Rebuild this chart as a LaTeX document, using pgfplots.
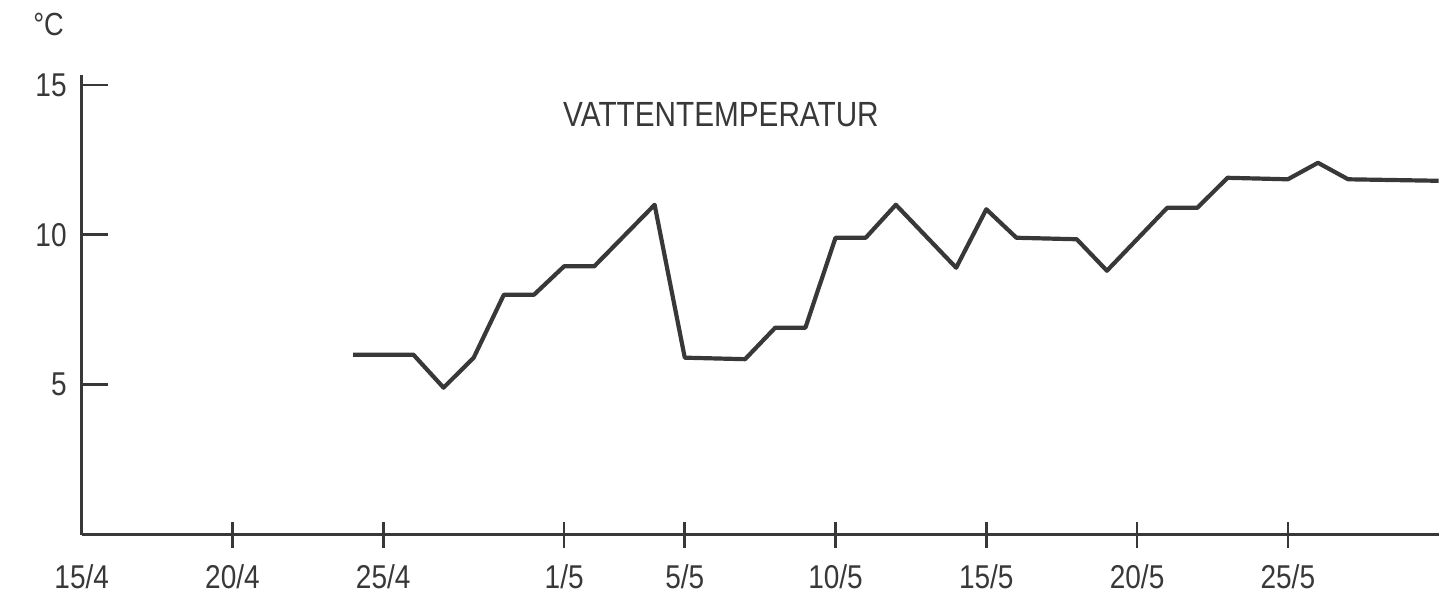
\documentclass[border=0pt]{standalone}
\usepackage{fontspec}
\setmainfont{Liberation Sans}[FakeStretch=0.85]
\usepackage{pgfplots}
\pgfplotsset{compat=1.18}
\definecolor{ink}{HTML}{383838}

\begin{document}
\begin{tikzpicture}
\begin{axis}[
  width=679pt, height=230pt, scale only axis,
  xmin=0, xmax=45, ymin=0, ymax=15.33,
  axis lines=left,
  axis line style={ink, line width=1.5pt, -},
  clip=false,
  xtick={5,10,16,20,25,30,35,40},
  xticklabels={20/4,25/4,1/5,5/5,10/5,15/5,20/5,25/5},
  extra x ticks={0},
  extra x tick labels={15/4},
  extra x tick style={major tick style={draw=none}},
  ytick={5,10,15},
  xtick align=center,
  ytick align=inside,
  major tick length=13pt,
  tick style={ink, line width=1.3pt},
  tick label style={ink, font=\fontsize{16.5}{19}\selectfont},
  xticklabel style={yshift=-5pt},
  yticklabel style={xshift=-4pt},
  /pgf/number format/assume math mode=true,
]
\addplot[ink, line width=2.1pt, line join=round] coordinates {
  (9,6) (11,6) (12,4.9) (13,5.9) (14,8) (15,8) (16,8.95) (17,8.95)
  (19,11) (20,5.9) (22,5.85) (23,6.9) (24,6.9) (25,9.9) (26,9.9)
  (27,11) (29,8.9) (30,10.85) (31,9.9) (33,9.85) (34,8.8) (36,10.9)
  (37,10.9) (38,11.9) (40,11.85) (41,12.4) (42,11.85) (45,11.8)
};
\node[ink, font=\fontsize{17.5}{20}\selectfont] at (axis cs:21.2,14) {VATTENTEMPERATUR};
\node[ink, font=\fontsize{16}{18}\selectfont] at (axis cs:-1.1,17) {°C};
\path (axis cs:-2.71,-1.8) rectangle (axis cs:45.08,17.83);
\end{axis}
\end{tikzpicture}
\end{document}
